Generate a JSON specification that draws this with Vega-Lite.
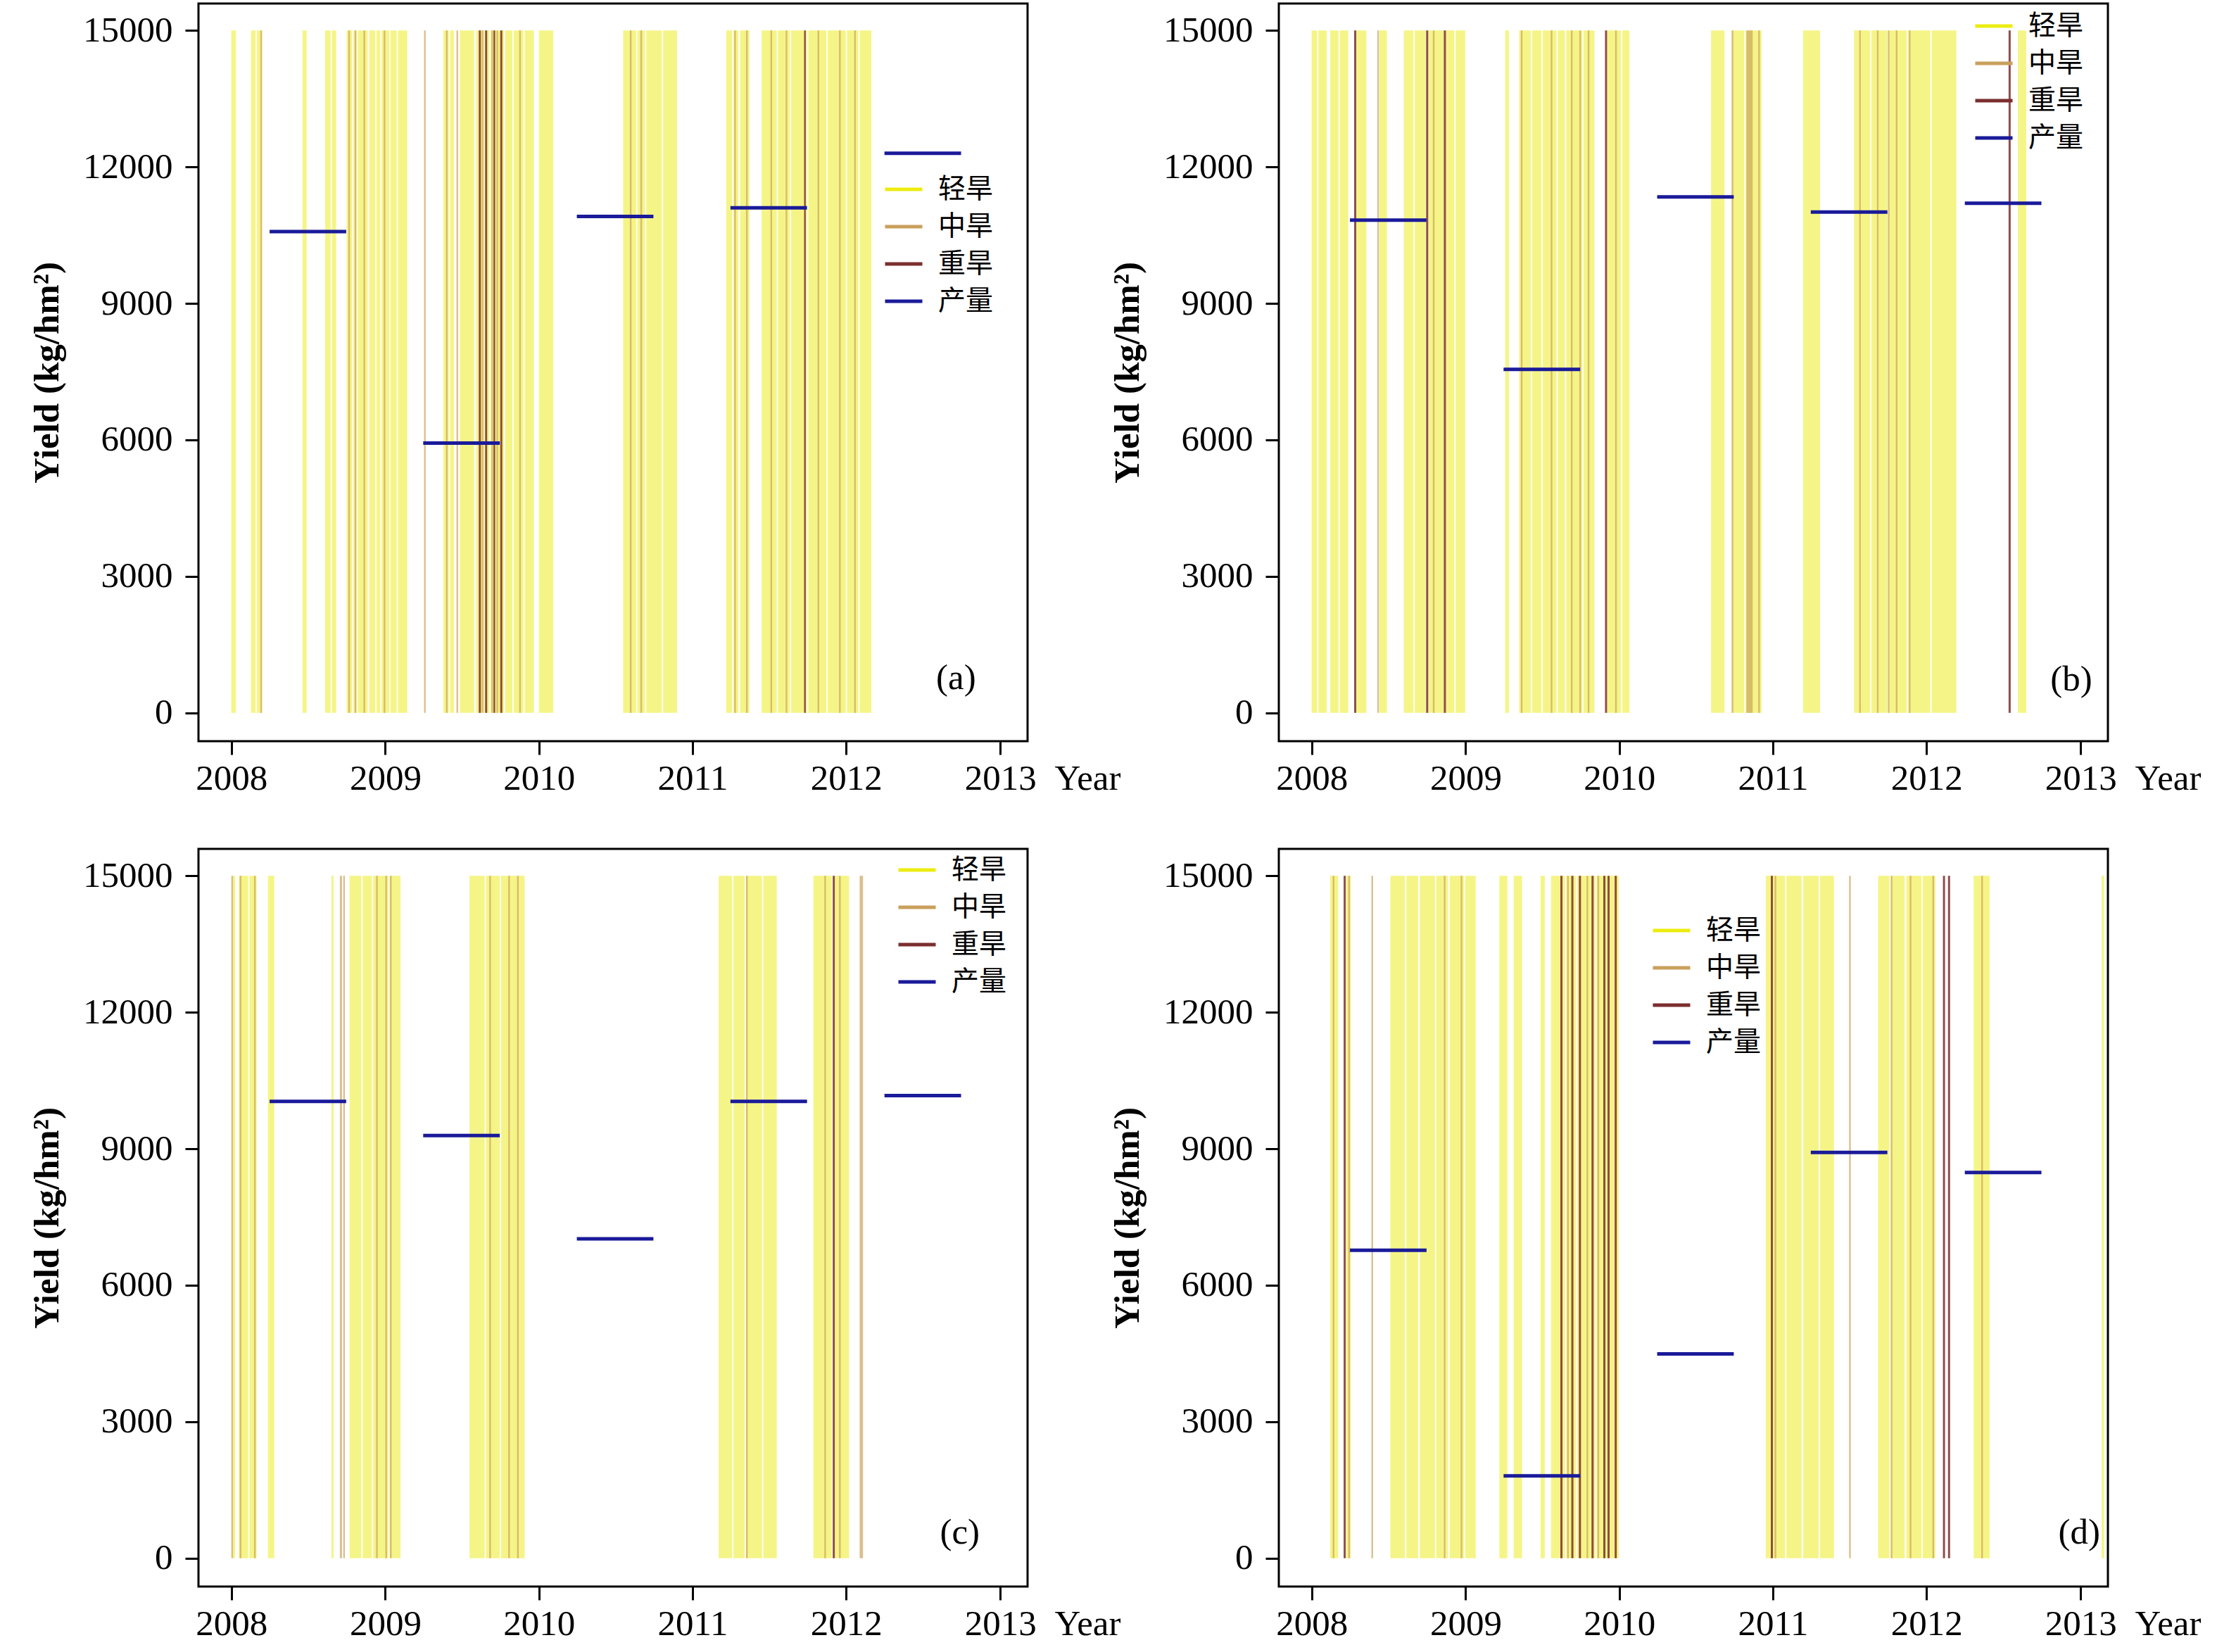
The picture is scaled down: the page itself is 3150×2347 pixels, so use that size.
{
  "$schema": "https://vega.github.io/schema/vega-lite/v6.json",
  "background": "white",
  "padding": {"left": 40, "top": 3, "right": 5, "bottom": 5},
  "config": {
    "view": {"stroke": "black", "strokeWidth": 3},
    "axis": {"grid": false, "domain": false, "tickColor": "black", "tickWidth": 3, "tickSize": 19, "labelFont": "Liberation Serif", "labelFontSize": 51, "labelColor": "black", "titleFont": "Liberation Serif", "titleFontSize": 51, "titleColor": "black"},
    "legend": {"orient": "none", "title": null, "symbolType": "stroke", "symbolStrokeWidth": 5, "symbolSize": 2809, "symbolOpacity": 1, "labelFont": "Noto Sans CJK SC", "labelFontSize": 39, "labelColor": "black", "labelOffset": 20, "rowPadding": 4, "padding": 0}
  },
  "datasets": {
    "drought": [
      {"panel": "a", "start": "2008-01-01", "end": "2008-01-12", "level": "轻旱"},
      {"panel": "a", "start": "2008-02-17", "end": "2008-02-28", "level": "轻旱"},
      {"panel": "a", "start": "2008-03-02", "end": "2008-03-14", "level": "轻旱"},
      {"panel": "a", "start": "2008-06-18", "end": "2008-06-28", "level": "轻旱"},
      {"panel": "a", "start": "2008-08-11", "end": "2008-08-24", "level": "轻旱"},
      {"panel": "a", "start": "2008-08-27", "end": "2008-09-06", "level": "轻旱"},
      {"panel": "a", "start": "2008-10-01", "end": "2008-10-14", "level": "轻旱"},
      {"panel": "a", "start": "2008-10-17", "end": "2008-10-25", "level": "轻旱"},
      {"panel": "a", "start": "2008-10-28", "end": "2008-11-20", "level": "轻旱"},
      {"panel": "a", "start": "2008-11-24", "end": "2008-12-08", "level": "轻旱"},
      {"panel": "a", "start": "2008-12-11", "end": "2008-12-20", "level": "轻旱"},
      {"panel": "a", "start": "2008-12-23", "end": "2009-01-10", "level": "轻旱"},
      {"panel": "a", "start": "2009-01-13", "end": "2009-01-28", "level": "轻旱"},
      {"panel": "a", "start": "2009-01-31", "end": "2009-02-22", "level": "轻旱"},
      {"panel": "a", "start": "2009-05-19", "end": "2009-06-01", "level": "轻旱"},
      {"panel": "a", "start": "2009-06-04", "end": "2009-06-13", "level": "轻旱"},
      {"panel": "a", "start": "2009-06-27", "end": "2009-07-31", "level": "轻旱"},
      {"panel": "a", "start": "2009-08-05", "end": "2009-08-25", "level": "轻旱"},
      {"panel": "a", "start": "2009-08-28", "end": "2009-09-05", "level": "轻旱"},
      {"panel": "a", "start": "2009-09-08", "end": "2009-10-10", "level": "轻旱"},
      {"panel": "a", "start": "2009-10-13", "end": "2009-10-30", "level": "轻旱"},
      {"panel": "a", "start": "2009-11-02", "end": "2009-11-25", "level": "轻旱"},
      {"panel": "a", "start": "2009-11-28", "end": "2009-12-20", "level": "轻旱"},
      {"panel": "a", "start": "2010-01-01", "end": "2010-02-04", "level": "轻旱"},
      {"panel": "a", "start": "2010-07-20", "end": "2010-08-20", "level": "轻旱"},
      {"panel": "a", "start": "2010-08-23", "end": "2010-09-10", "level": "轻旱"},
      {"panel": "a", "start": "2010-09-13", "end": "2010-10-20", "level": "轻旱"},
      {"panel": "a", "start": "2010-10-23", "end": "2010-11-25", "level": "轻旱"},
      {"panel": "a", "start": "2011-03-22", "end": "2011-04-05", "level": "轻旱"},
      {"panel": "a", "start": "2011-04-08", "end": "2011-04-20", "level": "轻旱"},
      {"panel": "a", "start": "2011-04-24", "end": "2011-05-16", "level": "轻旱"},
      {"panel": "a", "start": "2011-06-14", "end": "2011-07-20", "level": "轻旱"},
      {"panel": "a", "start": "2011-07-23", "end": "2011-08-20", "level": "轻旱"},
      {"panel": "a", "start": "2011-08-23", "end": "2011-09-30", "level": "轻旱"},
      {"panel": "a", "start": "2011-10-03", "end": "2011-11-15", "level": "轻旱"},
      {"panel": "a", "start": "2011-11-18", "end": "2011-12-31", "level": "轻旱"},
      {"panel": "a", "start": "2012-01-03", "end": "2012-01-30", "level": "轻旱"},
      {"panel": "a", "start": "2012-02-02", "end": "2012-03-01", "level": "轻旱"},
      {"panel": "b", "start": "2008-01-01", "end": "2008-01-14", "level": "轻旱"},
      {"panel": "b", "start": "2008-01-17", "end": "2008-02-06", "level": "轻旱"},
      {"panel": "b", "start": "2008-02-14", "end": "2008-03-05", "level": "轻旱"},
      {"panel": "b", "start": "2008-03-08", "end": "2008-03-28", "level": "轻旱"},
      {"panel": "b", "start": "2008-04-16", "end": "2008-05-10", "level": "轻旱"},
      {"panel": "b", "start": "2008-06-10", "end": "2008-06-28", "level": "轻旱"},
      {"panel": "b", "start": "2008-08-07", "end": "2008-08-30", "level": "轻旱"},
      {"panel": "b", "start": "2008-09-02", "end": "2008-09-28", "level": "轻旱"},
      {"panel": "b", "start": "2008-10-04", "end": "2008-11-10", "level": "轻旱"},
      {"panel": "b", "start": "2008-11-14", "end": "2008-12-05", "level": "轻旱"},
      {"panel": "b", "start": "2008-12-08", "end": "2008-12-31", "level": "轻旱"},
      {"panel": "b", "start": "2009-04-05", "end": "2009-04-14", "level": "轻旱"},
      {"panel": "b", "start": "2009-05-08", "end": "2009-06-05", "level": "轻旱"},
      {"panel": "b", "start": "2009-06-08", "end": "2009-06-30", "level": "轻旱"},
      {"panel": "b", "start": "2009-07-03", "end": "2009-08-05", "level": "轻旱"},
      {"panel": "b", "start": "2009-08-08", "end": "2009-08-25", "level": "轻旱"},
      {"panel": "b", "start": "2009-08-28", "end": "2009-10-05", "level": "轻旱"},
      {"panel": "b", "start": "2009-10-08", "end": "2009-11-03", "level": "轻旱"},
      {"panel": "b", "start": "2009-12-03", "end": "2010-01-05", "level": "轻旱"},
      {"panel": "b", "start": "2010-01-08", "end": "2010-01-25", "level": "轻旱"},
      {"panel": "b", "start": "2010-08-07", "end": "2010-09-08", "level": "轻旱"},
      {"panel": "b", "start": "2010-09-25", "end": "2010-10-25", "level": "轻旱"},
      {"panel": "b", "start": "2010-10-28", "end": "2010-12-05", "level": "轻旱"},
      {"panel": "b", "start": "2011-03-14", "end": "2011-04-23", "level": "轻旱"},
      {"panel": "b", "start": "2011-07-13", "end": "2011-08-20", "level": "轻旱"},
      {"panel": "b", "start": "2011-08-23", "end": "2011-09-30", "level": "轻旱"},
      {"panel": "b", "start": "2011-10-03", "end": "2011-11-15", "level": "轻旱"},
      {"panel": "b", "start": "2011-11-18", "end": "2012-01-10", "level": "轻旱"},
      {"panel": "b", "start": "2012-01-13", "end": "2012-03-12", "level": "轻旱"},
      {"panel": "b", "start": "2012-08-05", "end": "2012-08-25", "level": "轻旱"},
      {"panel": "c", "start": "2008-01-04", "end": "2008-01-10", "level": "轻旱"},
      {"panel": "c", "start": "2008-01-19", "end": "2008-02-10", "level": "轻旱"},
      {"panel": "c", "start": "2008-02-13", "end": "2008-03-01", "level": "轻旱"},
      {"panel": "c", "start": "2008-03-28", "end": "2008-04-12", "level": "轻旱"},
      {"panel": "c", "start": "2008-08-26", "end": "2008-08-31", "level": "轻旱"},
      {"panel": "c", "start": "2008-10-08", "end": "2008-11-05", "level": "轻旱"},
      {"panel": "c", "start": "2008-11-08", "end": "2008-11-30", "level": "轻旱"},
      {"panel": "c", "start": "2008-12-03", "end": "2009-01-08", "level": "轻旱"},
      {"panel": "c", "start": "2009-01-11", "end": "2009-02-06", "level": "轻旱"},
      {"panel": "c", "start": "2009-07-20", "end": "2009-08-25", "level": "轻旱"},
      {"panel": "c", "start": "2009-08-28", "end": "2009-09-30", "level": "轻旱"},
      {"panel": "c", "start": "2009-10-03", "end": "2009-11-28", "level": "轻旱"},
      {"panel": "c", "start": "2011-03-04", "end": "2011-04-05", "level": "轻旱"},
      {"panel": "c", "start": "2011-04-08", "end": "2011-05-05", "level": "轻旱"},
      {"panel": "c", "start": "2011-05-08", "end": "2011-06-15", "level": "轻旱"},
      {"panel": "c", "start": "2011-06-18", "end": "2011-07-20", "level": "轻旱"},
      {"panel": "c", "start": "2011-10-15", "end": "2011-11-28", "level": "轻旱"},
      {"panel": "c", "start": "2011-12-04", "end": "2012-01-08", "level": "轻旱"},
      {"panel": "d", "start": "2008-02-14", "end": "2008-03-04", "level": "轻旱"},
      {"panel": "d", "start": "2008-03-23", "end": "2008-04-03", "level": "轻旱"},
      {"panel": "d", "start": "2008-07-06", "end": "2008-08-10", "level": "轻旱"},
      {"panel": "d", "start": "2008-08-13", "end": "2008-09-10", "level": "轻旱"},
      {"panel": "d", "start": "2008-09-14", "end": "2008-10-20", "level": "轻旱"},
      {"panel": "d", "start": "2008-10-23", "end": "2008-11-20", "level": "轻旱"},
      {"panel": "d", "start": "2008-11-24", "end": "2008-12-28", "level": "轻旱"},
      {"panel": "d", "start": "2008-12-31", "end": "2009-01-25", "level": "轻旱"},
      {"panel": "d", "start": "2009-03-22", "end": "2009-04-10", "level": "轻旱"},
      {"panel": "d", "start": "2009-04-25", "end": "2009-05-15", "level": "轻旱"},
      {"panel": "d", "start": "2009-06-28", "end": "2009-07-08", "level": "轻旱"},
      {"panel": "d", "start": "2009-07-23", "end": "2009-08-25", "level": "轻旱"},
      {"panel": "d", "start": "2009-08-28", "end": "2009-09-20", "level": "轻旱"},
      {"panel": "d", "start": "2009-09-23", "end": "2009-11-05", "level": "轻旱"},
      {"panel": "d", "start": "2009-11-08", "end": "2009-12-31", "level": "轻旱"},
      {"panel": "d", "start": "2010-12-15", "end": "2011-01-30", "level": "轻旱"},
      {"panel": "d", "start": "2011-02-02", "end": "2011-03-10", "level": "轻旱"},
      {"panel": "d", "start": "2011-03-14", "end": "2011-04-20", "level": "轻旱"},
      {"panel": "d", "start": "2011-04-23", "end": "2011-05-26", "level": "轻旱"},
      {"panel": "d", "start": "2011-09-08", "end": "2011-10-05", "level": "轻旱"},
      {"panel": "d", "start": "2011-10-08", "end": "2011-11-10", "level": "轻旱"},
      {"panel": "d", "start": "2011-11-14", "end": "2011-12-20", "level": "轻旱"},
      {"panel": "d", "start": "2011-12-23", "end": "2012-01-22", "level": "轻旱"},
      {"panel": "d", "start": "2012-04-22", "end": "2012-05-30", "level": "轻旱"},
      {"panel": "d", "start": "2013-02-20", "end": "2013-02-26", "level": "轻旱"},
      {"panel": "a", "start": "2008-03-10", "end": "2008-03-14", "level": "中旱"},
      {"panel": "a", "start": "2008-10-05", "end": "2008-10-09", "level": "中旱"},
      {"panel": "a", "start": "2008-10-20", "end": "2008-10-24", "level": "中旱"},
      {"panel": "a", "start": "2008-11-10", "end": "2008-11-14", "level": "中旱"},
      {"panel": "a", "start": "2008-12-28", "end": "2009-01-01", "level": "中旱"},
      {"panel": "a", "start": "2009-04-03", "end": "2009-04-07", "level": "中旱"},
      {"panel": "a", "start": "2009-05-25", "end": "2009-05-29", "level": "中旱"},
      {"panel": "a", "start": "2009-06-19", "end": "2009-06-23", "level": "中旱"},
      {"panel": "a", "start": "2009-08-18", "end": "2009-08-22", "level": "中旱"},
      {"panel": "a", "start": "2009-09-10", "end": "2009-09-14", "level": "中旱"},
      {"panel": "a", "start": "2009-09-22", "end": "2009-09-26", "level": "中旱"},
      {"panel": "a", "start": "2009-11-15", "end": "2009-11-19", "level": "中旱"},
      {"panel": "a", "start": "2010-08-05", "end": "2010-08-09", "level": "中旱"},
      {"panel": "a", "start": "2010-08-30", "end": "2010-09-03", "level": "中旱"},
      {"panel": "a", "start": "2011-04-10", "end": "2011-04-14", "level": "中旱"},
      {"panel": "a", "start": "2011-05-08", "end": "2011-05-12", "level": "中旱"},
      {"panel": "a", "start": "2011-07-05", "end": "2011-07-09", "level": "中旱"},
      {"panel": "a", "start": "2011-08-10", "end": "2011-08-14", "level": "中旱"},
      {"panel": "a", "start": "2011-10-25", "end": "2011-10-29", "level": "中旱"},
      {"panel": "a", "start": "2011-12-15", "end": "2011-12-19", "level": "中旱"},
      {"panel": "a", "start": "2012-01-20", "end": "2012-01-24", "level": "中旱"},
      {"panel": "b", "start": "2008-06-05", "end": "2008-06-09", "level": "中旱"},
      {"panel": "b", "start": "2008-10-15", "end": "2008-10-19", "level": "中旱"},
      {"panel": "b", "start": "2009-05-12", "end": "2009-05-16", "level": "中旱"},
      {"panel": "b", "start": "2009-07-22", "end": "2009-07-26", "level": "中旱"},
      {"panel": "b", "start": "2009-09-08", "end": "2009-09-12", "level": "中旱"},
      {"panel": "b", "start": "2009-09-28", "end": "2009-10-02", "level": "中旱"},
      {"panel": "b", "start": "2009-10-18", "end": "2009-10-22", "level": "中旱"},
      {"panel": "b", "start": "2009-12-22", "end": "2009-12-26", "level": "中旱"},
      {"panel": "b", "start": "2010-09-25", "end": "2010-09-29", "level": "中旱"},
      {"panel": "b", "start": "2010-10-30", "end": "2010-11-14", "level": "中旱"},
      {"panel": "b", "start": "2010-11-27", "end": "2010-12-01", "level": "中旱"},
      {"panel": "b", "start": "2011-07-25", "end": "2011-07-29", "level": "中旱"},
      {"panel": "b", "start": "2011-09-05", "end": "2011-09-09", "level": "中旱"},
      {"panel": "b", "start": "2011-10-01", "end": "2011-10-05", "level": "中旱"},
      {"panel": "b", "start": "2011-10-20", "end": "2011-10-24", "level": "中旱"},
      {"panel": "b", "start": "2011-11-20", "end": "2011-11-24", "level": "中旱"},
      {"panel": "c", "start": "2008-01-01", "end": "2008-01-05", "level": "中旱"},
      {"panel": "c", "start": "2008-01-21", "end": "2008-01-25", "level": "中旱"},
      {"panel": "c", "start": "2008-02-24", "end": "2008-02-28", "level": "中旱"},
      {"panel": "c", "start": "2008-09-15", "end": "2008-09-20", "level": "中旱"},
      {"panel": "c", "start": "2008-09-23", "end": "2008-09-27", "level": "中旱"},
      {"panel": "c", "start": "2008-12-10", "end": "2008-12-14", "level": "中旱"},
      {"panel": "c", "start": "2009-01-01", "end": "2009-01-05", "level": "中旱"},
      {"panel": "c", "start": "2009-01-12", "end": "2009-01-16", "level": "中旱"},
      {"panel": "c", "start": "2009-09-05", "end": "2009-09-09", "level": "中旱"},
      {"panel": "c", "start": "2009-10-20", "end": "2009-10-24", "level": "中旱"},
      {"panel": "c", "start": "2009-11-10", "end": "2009-11-14", "level": "中旱"},
      {"panel": "c", "start": "2011-05-08", "end": "2011-05-12", "level": "中旱"},
      {"panel": "c", "start": "2011-11-10", "end": "2011-11-14", "level": "中旱"},
      {"panel": "c", "start": "2011-12-15", "end": "2011-12-19", "level": "中旱"},
      {"panel": "c", "start": "2012-02-02", "end": "2012-02-10", "level": "中旱"},
      {"panel": "d", "start": "2008-02-20", "end": "2008-02-24", "level": "中旱"},
      {"panel": "d", "start": "2008-03-28", "end": "2008-04-01", "level": "中旱"},
      {"panel": "d", "start": "2008-05-22", "end": "2008-05-26", "level": "中旱"},
      {"panel": "d", "start": "2008-11-10", "end": "2008-11-14", "level": "中旱"},
      {"panel": "d", "start": "2008-12-20", "end": "2008-12-24", "level": "中旱"},
      {"panel": "d", "start": "2009-08-30", "end": "2009-09-03", "level": "中旱"},
      {"panel": "d", "start": "2009-10-15", "end": "2009-10-19", "level": "中旱"},
      {"panel": "d", "start": "2009-11-10", "end": "2009-11-14", "level": "中旱"},
      {"panel": "d", "start": "2011-01-05", "end": "2011-01-09", "level": "中旱"},
      {"panel": "d", "start": "2011-07-01", "end": "2011-07-05", "level": "中旱"},
      {"panel": "d", "start": "2011-10-08", "end": "2011-10-12", "level": "中旱"},
      {"panel": "d", "start": "2011-11-22", "end": "2011-11-26", "level": "中旱"},
      {"panel": "d", "start": "2012-01-15", "end": "2012-01-19", "level": "中旱"},
      {"panel": "d", "start": "2012-05-10", "end": "2012-05-14", "level": "中旱"},
      {"panel": "a", "start": "2009-08-11", "end": "2009-08-16", "level": "重旱"},
      {"panel": "a", "start": "2009-08-26", "end": "2009-08-31", "level": "重旱"},
      {"panel": "a", "start": "2009-09-15", "end": "2009-09-19", "level": "重旱"},
      {"panel": "a", "start": "2009-10-01", "end": "2009-10-06", "level": "重旱"},
      {"panel": "a", "start": "2011-09-23", "end": "2011-09-27", "level": "重旱"},
      {"panel": "b", "start": "2008-04-11", "end": "2008-04-16", "level": "重旱"},
      {"panel": "b", "start": "2008-09-29", "end": "2008-10-04", "level": "重旱"},
      {"panel": "b", "start": "2008-11-10", "end": "2008-11-15", "level": "重旱"},
      {"panel": "b", "start": "2009-11-28", "end": "2009-12-03", "level": "重旱"},
      {"panel": "b", "start": "2012-07-14", "end": "2012-07-19", "level": "重旱"},
      {"panel": "c", "start": "2011-11-30", "end": "2011-12-05", "level": "重旱"},
      {"panel": "d", "start": "2008-03-17", "end": "2008-03-22", "level": "重旱"},
      {"panel": "d", "start": "2009-08-14", "end": "2009-08-19", "level": "重旱"},
      {"panel": "d", "start": "2009-09-09", "end": "2009-09-14", "level": "重旱"},
      {"panel": "d", "start": "2009-09-27", "end": "2009-10-02", "level": "重旱"},
      {"panel": "d", "start": "2009-10-27", "end": "2009-11-01", "level": "重旱"},
      {"panel": "d", "start": "2009-11-24", "end": "2009-11-29", "level": "重旱"},
      {"panel": "d", "start": "2009-12-04", "end": "2009-12-09", "level": "重旱"},
      {"panel": "d", "start": "2009-12-21", "end": "2009-12-26", "level": "重旱"},
      {"panel": "d", "start": "2010-12-27", "end": "2011-01-01", "level": "重旱"},
      {"panel": "d", "start": "2012-02-09", "end": "2012-02-14", "level": "重旱"},
      {"panel": "d", "start": "2012-02-21", "end": "2012-02-26", "level": "重旱"}
    ],
    "yield": [
      {"panel": "a", "start": "2008-04-01", "end": "2008-09-30", "yield": 10580},
      {"panel": "a", "start": "2009-04-01", "end": "2009-09-30", "yield": 5930},
      {"panel": "a", "start": "2010-04-01", "end": "2010-09-30", "yield": 10910},
      {"panel": "a", "start": "2011-04-01", "end": "2011-09-30", "yield": 11100},
      {"panel": "a", "start": "2012-04-01", "end": "2012-09-30", "yield": 12300},
      {"panel": "b", "start": "2008-04-01", "end": "2008-09-30", "yield": 10830},
      {"panel": "b", "start": "2009-04-01", "end": "2009-09-30", "yield": 7550},
      {"panel": "b", "start": "2010-04-01", "end": "2010-09-30", "yield": 11340},
      {"panel": "b", "start": "2011-04-01", "end": "2011-09-30", "yield": 11010},
      {"panel": "b", "start": "2012-04-01", "end": "2012-09-30", "yield": 11200},
      {"panel": "c", "start": "2008-04-01", "end": "2008-09-30", "yield": 10040},
      {"panel": "c", "start": "2009-04-01", "end": "2009-09-30", "yield": 9290},
      {"panel": "c", "start": "2010-04-01", "end": "2010-09-30", "yield": 7020},
      {"panel": "c", "start": "2011-04-01", "end": "2011-09-30", "yield": 10040},
      {"panel": "c", "start": "2012-04-01", "end": "2012-09-30", "yield": 10170},
      {"panel": "d", "start": "2008-04-01", "end": "2008-09-30", "yield": 6770},
      {"panel": "d", "start": "2009-04-01", "end": "2009-09-30", "yield": 1810},
      {"panel": "d", "start": "2010-04-01", "end": "2010-09-30", "yield": 4490},
      {"panel": "d", "start": "2011-04-01", "end": "2011-09-30", "yield": 8920},
      {"panel": "d", "start": "2012-04-01", "end": "2012-09-30", "yield": 8480}
    ]
  },
  "columns": 2,
  "spacing": {"row": 153, "column": 357},
  "bounds": "flush",
  "resolve": {"scale": {"fill": "independent", "stroke": "independent", "opacity": "independent", "x": "independent", "y": "independent"}, "legend": {"stroke": "independent"}},
  "concat": [
    {
      "width": 1178, "height": 1048,
      "layer": [
        {
          "data": {"name": "drought"},
          "transform": [{"filter": "datum.panel === 'a'"}],
          "mark": {"type": "rect"},
          "encoding": {
            "x": {"field": "start", "type": "temporal", "scale": {"domain": [{"year": 2007, "month": 10, "date": 15}, {"year": 2013, "month": 3, "date": 7}]}, "axis": {"values": [{"year": 2008, "month": 1, "date": 1}, {"year": 2009, "month": 1, "date": 1}, {"year": 2010, "month": 1, "date": 1}, {"year": 2011, "month": 1, "date": 1}, {"year": 2012, "month": 1, "date": 1}, {"year": 2013, "month": 1, "date": 1}], "format": "%Y", "labelPadding": 9, "labelFlush": false, "labelOverlap": false, "title": "Year", "titleX": 1216, "titleY": 68, "titleAlign": "left", "titleBaseline": "alphabetic", "titleFontWeight": "normal"}},
            "x2": {"field": "end"},
            "y": {"datum": 0, "type": "quantitative", "scale": {"domain": [-623, 15592], "nice": false, "zero": false}, "axis": {"values": [0, 3000, 6000, 9000, 12000, 15000], "format": "d", "labelPadding": 18, "title": "Yield (kg/hm²)", "titleFontWeight": "bold", "titlePadding": 24}},
            "y2": {"datum": 15000},
            "fill": {"field": "level", "type": "nominal", "scale": {"domain": ["轻旱", "中旱", "重旱"], "range": ["#ecec10", "#c9a05c", "#7b2e2e"]}, "legend": null},
            "opacity": {"field": "level", "type": "nominal", "scale": {"domain": ["轻旱", "中旱", "重旱"], "range": [0.5, 0.85, 0.95]}, "legend": null}
          }
        },
        {
          "data": {"name": "yield"},
          "transform": [{"filter": "datum.panel === 'a'"}],
          "mark": {"type": "rule", "strokeWidth": 5},
          "encoding": {
            "x": {"field": "start", "type": "temporal"},
            "x2": {"field": "end"},
            "y": {"field": "yield", "type": "quantitative"},
            "stroke": {"datum": "产量", "type": "nominal", "scale": {"domain": ["轻旱", "中旱", "重旱", "产量"], "range": ["#ecec10", "#c9a05c", "#7b2e2e", "#1a1a9a"]}, "legend": {"legendX": 973, "legendY": 235}}
          }
        },
        {
          "data": {"values": [{}]},
          "mark": {"type": "text", "text": "(a)", "font": "Liberation Serif", "fontSize": 51, "color": "black", "align": "center", "baseline": "middle"},
          "encoding": {
            "x": {"datum": {"year": 2012, "month": 9, "date": 18}, "type": "temporal"},
            "y": {"datum": 750, "type": "quantitative"}
          }
        }
      ]
    },
    {
      "width": 1178, "height": 1048,
      "layer": [
        {
          "data": {"name": "drought"},
          "transform": [{"filter": "datum.panel === 'b'"}],
          "mark": {"type": "rect"},
          "encoding": {
            "x": {"field": "start", "type": "temporal", "scale": {"domain": [{"year": 2007, "month": 10, "date": 15}, {"year": 2013, "month": 3, "date": 7}]}, "axis": {"values": [{"year": 2008, "month": 1, "date": 1}, {"year": 2009, "month": 1, "date": 1}, {"year": 2010, "month": 1, "date": 1}, {"year": 2011, "month": 1, "date": 1}, {"year": 2012, "month": 1, "date": 1}, {"year": 2013, "month": 1, "date": 1}], "format": "%Y", "labelPadding": 9, "labelFlush": false, "labelOverlap": false, "title": "Year", "titleX": 1216, "titleY": 68, "titleAlign": "left", "titleBaseline": "alphabetic", "titleFontWeight": "normal"}},
            "x2": {"field": "end"},
            "y": {"datum": 0, "type": "quantitative", "scale": {"domain": [-623, 15592], "nice": false, "zero": false}, "axis": {"values": [0, 3000, 6000, 9000, 12000, 15000], "format": "d", "labelPadding": 18, "title": "Yield (kg/hm²)", "titleFontWeight": "bold", "titlePadding": 24}},
            "y2": {"datum": 15000},
            "fill": {"field": "level", "type": "nominal", "scale": {"domain": ["轻旱", "中旱", "重旱"], "range": ["#ecec10", "#c9a05c", "#7b2e2e"]}, "legend": null},
            "opacity": {"field": "level", "type": "nominal", "scale": {"domain": ["轻旱", "中旱", "重旱"], "range": [0.5, 0.85, 0.95]}, "legend": null}
          }
        },
        {
          "data": {"name": "yield"},
          "transform": [{"filter": "datum.panel === 'b'"}],
          "mark": {"type": "rule", "strokeWidth": 5},
          "encoding": {
            "x": {"field": "start", "type": "temporal"},
            "x2": {"field": "end"},
            "y": {"field": "yield", "type": "quantitative"},
            "stroke": {"datum": "产量", "type": "nominal", "scale": {"domain": ["轻旱", "中旱", "重旱", "产量"], "range": ["#ecec10", "#c9a05c", "#7b2e2e", "#1a1a9a"]}, "legend": {"legendX": 987, "legendY": 3}}
          }
        },
        {
          "data": {"values": [{}]},
          "mark": {"type": "text", "text": "(b)", "font": "Liberation Serif", "fontSize": 51, "color": "black", "align": "center", "baseline": "middle"},
          "encoding": {
            "x": {"datum": {"year": 2012, "month": 12, "date": 10}, "type": "temporal"},
            "y": {"datum": 730, "type": "quantitative"}
          }
        }
      ]
    },
    {
      "width": 1178, "height": 1048,
      "layer": [
        {
          "data": {"name": "drought"},
          "transform": [{"filter": "datum.panel === 'c'"}],
          "mark": {"type": "rect"},
          "encoding": {
            "x": {"field": "start", "type": "temporal", "scale": {"domain": [{"year": 2007, "month": 10, "date": 15}, {"year": 2013, "month": 3, "date": 7}]}, "axis": {"values": [{"year": 2008, "month": 1, "date": 1}, {"year": 2009, "month": 1, "date": 1}, {"year": 2010, "month": 1, "date": 1}, {"year": 2011, "month": 1, "date": 1}, {"year": 2012, "month": 1, "date": 1}, {"year": 2013, "month": 1, "date": 1}], "format": "%Y", "labelPadding": 9, "labelFlush": false, "labelOverlap": false, "title": "Year", "titleX": 1216, "titleY": 68, "titleAlign": "left", "titleBaseline": "alphabetic", "titleFontWeight": "normal"}},
            "x2": {"field": "end"},
            "y": {"datum": 0, "type": "quantitative", "scale": {"domain": [-623, 15592], "nice": false, "zero": false}, "axis": {"values": [0, 3000, 6000, 9000, 12000, 15000], "format": "d", "labelPadding": 18, "title": "Yield (kg/hm²)", "titleFontWeight": "bold", "titlePadding": 24}},
            "y2": {"datum": 15000},
            "fill": {"field": "level", "type": "nominal", "scale": {"domain": ["轻旱", "中旱", "重旱"], "range": ["#ecec10", "#c9a05c", "#7b2e2e"]}, "legend": null},
            "opacity": {"field": "level", "type": "nominal", "scale": {"domain": ["轻旱", "中旱", "重旱"], "range": [0.5, 0.85, 0.95]}, "legend": null}
          }
        },
        {
          "data": {"name": "yield"},
          "transform": [{"filter": "datum.panel === 'c'"}],
          "mark": {"type": "rule", "strokeWidth": 5},
          "encoding": {
            "x": {"field": "start", "type": "temporal"},
            "x2": {"field": "end"},
            "y": {"field": "yield", "type": "quantitative"},
            "stroke": {"datum": "产量", "type": "nominal", "scale": {"domain": ["轻旱", "中旱", "重旱", "产量"], "range": ["#ecec10", "#c9a05c", "#7b2e2e", "#1a1a9a"]}, "legend": {"legendX": 992, "legendY": 1}}
          }
        },
        {
          "data": {"values": [{}]},
          "mark": {"type": "text", "text": "(c)", "font": "Liberation Serif", "fontSize": 51, "color": "black", "align": "center", "baseline": "middle"},
          "encoding": {
            "x": {"datum": {"year": 2012, "month": 9, "date": 27}, "type": "temporal"},
            "y": {"datum": 560, "type": "quantitative"}
          }
        }
      ]
    },
    {
      "width": 1178, "height": 1048,
      "layer": [
        {
          "data": {"name": "drought"},
          "transform": [{"filter": "datum.panel === 'd'"}],
          "mark": {"type": "rect"},
          "encoding": {
            "x": {"field": "start", "type": "temporal", "scale": {"domain": [{"year": 2007, "month": 10, "date": 15}, {"year": 2013, "month": 3, "date": 7}]}, "axis": {"values": [{"year": 2008, "month": 1, "date": 1}, {"year": 2009, "month": 1, "date": 1}, {"year": 2010, "month": 1, "date": 1}, {"year": 2011, "month": 1, "date": 1}, {"year": 2012, "month": 1, "date": 1}, {"year": 2013, "month": 1, "date": 1}], "format": "%Y", "labelPadding": 9, "labelFlush": false, "labelOverlap": false, "title": "Year", "titleX": 1216, "titleY": 68, "titleAlign": "left", "titleBaseline": "alphabetic", "titleFontWeight": "normal"}},
            "x2": {"field": "end"},
            "y": {"datum": 0, "type": "quantitative", "scale": {"domain": [-623, 15592], "nice": false, "zero": false}, "axis": {"values": [0, 3000, 6000, 9000, 12000, 15000], "format": "d", "labelPadding": 18, "title": "Yield (kg/hm²)", "titleFontWeight": "bold", "titlePadding": 24}},
            "y2": {"datum": 15000},
            "fill": {"field": "level", "type": "nominal", "scale": {"domain": ["轻旱", "中旱", "重旱"], "range": ["#ecec10", "#c9a05c", "#7b2e2e"]}, "legend": null},
            "opacity": {"field": "level", "type": "nominal", "scale": {"domain": ["轻旱", "中旱", "重旱"], "range": [0.5, 0.85, 0.95]}, "legend": null}
          }
        },
        {
          "data": {"name": "yield"},
          "transform": [{"filter": "datum.panel === 'd'"}],
          "mark": {"type": "rule", "strokeWidth": 5},
          "encoding": {
            "x": {"field": "start", "type": "temporal"},
            "x2": {"field": "end"},
            "y": {"field": "yield", "type": "quantitative"},
            "stroke": {"datum": "产量", "type": "nominal", "scale": {"domain": ["轻旱", "中旱", "重旱", "产量"], "range": ["#ecec10", "#c9a05c", "#7b2e2e", "#1a1a9a"]}, "legend": {"legendX": 529, "legendY": 87}}
          }
        },
        {
          "data": {"values": [{}]},
          "mark": {"type": "text", "text": "(d)", "font": "Liberation Serif", "fontSize": 51, "color": "black", "align": "center", "baseline": "middle"},
          "encoding": {
            "x": {"datum": {"year": 2012, "month": 12, "date": 29}, "type": "temporal"},
            "y": {"datum": 560, "type": "quantitative"}
          }
        }
      ]
    }
  ]
}
